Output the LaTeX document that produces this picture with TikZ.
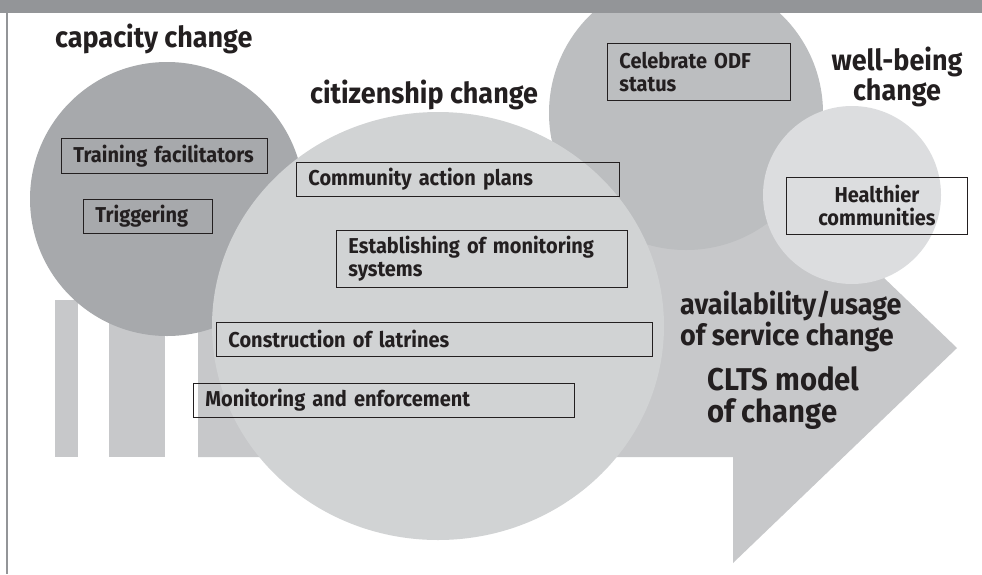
\documentclass[tikz,border=0pt]{standalone}
\usepackage{fontspec}
\setmainfont{Fira Sans}[FakeStretch=0.93]
\definecolor{hdr}{HTML}{939598}
\definecolor{capc}{HTML}{A7A9AC}
\definecolor{citc}{HTML}{D1D3D4}
\definecolor{celc}{HTML}{BCBEC0}
\definecolor{wellc}{HTML}{DCDDDF}
\definecolor{arrc}{HTML}{C7C8CA}
\definecolor{ink}{HTML}{231F20}
\tikzset{
  boxnode/.style={draw=ink, line width=0.9pt, text=ink,
    font=\bfseries\fontsize{21.5}{23}\selectfont,
    inner xsep=12pt, inner ysep=0pt, align=left, anchor=north west},
  heading/.style={text=ink, font=\bfseries\fontsize{29}{28}\selectfont,
    inner sep=0pt},
  bigheading/.style={text=ink, font=\bfseries\fontsize{31.5}{32}\selectfont,
    inner sep=0pt},
}
\begin{document}
\begin{tikzpicture}[x=1pt,y=-1pt]
\useasboundingbox (0,0) rectangle (982,574);
\fill[white] (0,0) rectangle (982,574);
% arrow and tail bars
\fill[arrc] (198,239) -- (733,239) -- (733,133) -- (957,348) -- (733,563)
  -- (733,457) -- (198,457) -- cycle;
\fill[arrc] (55,300) rectangle (78,457);
\fill[arrc] (109,300) rectangle (165,457);
% circles
\fill[capc] (167,199) circle[radius=137pt];
\fill[celc] (686,113) circle[radius=137pt];
\fill[citc] (438,326) ellipse[x radius=226pt, y radius=214pt];
\fill[wellc] (852,195) circle[radius=89pt];
% header bar and frame line
\fill[hdr] (0,0) rectangle (982,13);
\draw[hdr, line width=1.5pt] (7,13) -- (7,574);
% headings
\node[heading, anchor=base west] (hcap) at (55,47) {capacity change};
\node[heading, anchor=base west] (hcit) at (310,103) {citizenship change};
\node[heading, anchor=base, align=center] (hwell) at (897,100) {well-being\\change};
\node[heading, anchor=base west, align=left] (havail) at (680,345) {availability/usage\\of service change};
\node[bigheading, anchor=base west, align=left] (hclts) at (707,422) {CLTS model\\of change};
% boxes
\node[boxnode, text width=182pt, minimum height=35pt] (tf) at (61,138) {Training facilitators};
\node[boxnode, text width=105pt, minimum height=34pt] (trig) at (83,199) {Triggering};
\node[boxnode, text width=299pt, minimum height=34pt] (cap) at (296,162) {Community action plans};
\node[boxnode, text width=267pt, minimum height=57pt] (est) at (336,230) {Establishing of monitoring\\systems};
\node[boxnode, text width=412pt, minimum height=34pt] (con) at (216,322) {Construction of latrines};
\node[boxnode, text width=357pt, minimum height=34pt] (mon) at (193,383) {Monitoring and enforcement};
\node[boxnode, text width=159pt, minimum height=57pt] (cel) at (607,43) {Celebrate ODF\\status};
\node[boxnode, text width=157pt, minimum height=57pt, align=center] (hea) at (786,177) {Healthier\\communities};
\end{tikzpicture}
\end{document}
